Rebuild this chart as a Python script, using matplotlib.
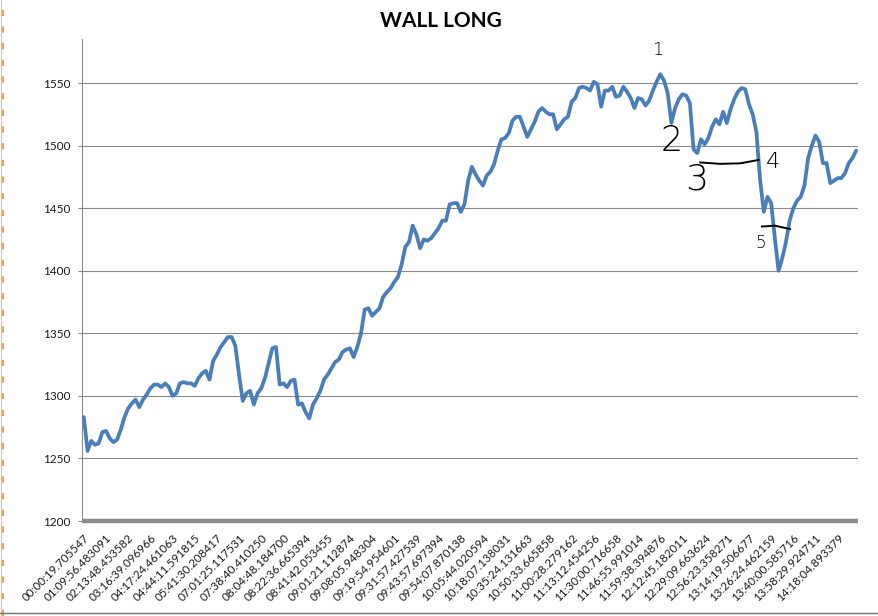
import matplotlib
matplotlib.use("Agg")
import matplotlib.pyplot as plt
from matplotlib.lines import Line2D
import numpy as np

# ---------------- data ----------------
title = "WALL LONG"

tick_labels = [
    "00:00:19.705547", "01:09:56.483091", "02:13:48.453582", "03:16:39.096966",
    "04:17:24.461063", "04:44:11.591815", "05:41:30.208417", "07:01:25.117531",
    "07:38:40.410250", "08:04:48.184700", "08:22:36.665394", "08:41:42.053455",
    "09:01:21.112874", "09:08:05.948304", "09:19:54.954601", "09:31:57.427539",
    "09:43:57.697394", "09:54:07.870138", "10:05:44.020594", "10:18:07.138031",
    "10:35:24.131663", "10:50:33.665858", "11:00:28.279162", "11:13:12.454256",
    "11:30:00.716658", "11:46:55.991014", "11:59:38.394876", "12:12:45.182011",
    "12:29:09.663624", "12:56:23.358271", "13:14:19.506677", "13:26:24.462159",
    "13:40:00.585716", "13:58:29.924711", "14:18:04.893379",
]

price = [
    1283, 1256, 1264, 1261, 1262, 1271, 1272, 1266, 1263, 1265,
    1273, 1283, 1290, 1294, 1297, 1291, 1297, 1301, 1306, 1309,
    1309, 1307, 1310, 1307, 1300, 1302, 1310, 1311, 1310, 1310,
    1308, 1314, 1318, 1320, 1313, 1328, 1333, 1339, 1343, 1347,
    1347, 1340, 1317, 1296, 1302, 1304, 1293, 1302, 1306, 1314,
    1326, 1338, 1339, 1309, 1310, 1307, 1312, 1313, 1293, 1294,
    1287, 1282, 1293, 1298, 1304, 1313, 1317, 1322, 1327, 1329,
    1335, 1337, 1338, 1331, 1339, 1350, 1369, 1370, 1364, 1367,
    1370, 1379, 1383, 1386, 1391, 1395, 1405, 1419, 1423, 1436,
    1429, 1418, 1425, 1424, 1426, 1430, 1434, 1440, 1440, 1453,
    1454, 1454, 1447, 1453, 1472, 1483, 1477, 1472, 1468, 1476,
    1479, 1485, 1496, 1505, 1506, 1510, 1520, 1523, 1523, 1515,
    1507, 1513, 1519, 1527, 1530, 1527, 1525, 1525, 1513, 1517,
    1521, 1523, 1535, 1538, 1546, 1547, 1546, 1544, 1551, 1549,
    1531, 1544, 1544, 1547, 1539, 1540, 1547, 1543, 1538, 1530,
    1538, 1537, 1532, 1536, 1544, 1551, 1557, 1552, 1542, 1518,
    1530, 1537, 1541, 1540, 1534, 1497, 1494, 1505, 1501, 1506,
    1515, 1521, 1517, 1527, 1518, 1529, 1537, 1543, 1546, 1545,
    1533, 1525, 1511, 1473, 1447, 1459, 1454, 1426, 1400, 1410,
    1423, 1440, 1450, 1456, 1459, 1468, 1490, 1500, 1508, 1503,
    1486, 1486, 1470, 1472, 1474, 1474, 1478, 1486, 1490, 1496,
]

y_ticks = [1200, 1250, 1300, 1350, 1400, 1450, 1500, 1550]
label_every = 6

# hand-drawn marks (sample index, price level)
marks = ["1", "2", "3", "4", "5"]
mark_pos = [(155.2, 1576), (159.2, 1504), (165.8, 1473), (186.4, 1487), (183.3, 1422)]
mark_size = [13, 25, 26, 16, 12]
stroke_34 = ([166.8, 172.2, 177.6, 182.6], [1486.5, 1485.4, 1485.8, 1488.5])
stroke_5 = ([183.5, 187.0, 191.1], [1435.3, 1436.0, 1433.3])

# ---------------- figure ----------------
W, H = 879, 616
fig = plt.figure(figsize=(W / 100, H / 100), dpi=100)
fig.patch.set_facecolor("white")

ymax = 1585
ax_left, ax_right, ax_bottom = 82, 858, 521
ax_top = ax_bottom - (ymax - 1200) * (438 / 350)
ax = fig.add_axes([ax_left / W, 1 - ax_bottom / H,
                   (ax_right - ax_left) / W, (ax_bottom - ax_top) / H])

x = np.arange(len(price))
ax.plot(x, price, color="#4A7EBB", lw=2.7, solid_joinstyle="round",
        solid_capstyle="round", zorder=3)

ax.set_xlim(-0.5, len(price) - 0.5)
ax.set_ylim(1200, ymax)

ax.set_yticks(y_ticks)
ax.set_yticklabels([str(v) for v in y_ticks], fontsize=8.5,
                   family=["Lato", "DejaVu Sans"], color="#1a1a1a")
ax.yaxis.grid(True, color="#8a8a8a", lw=0.8)
ax.set_axisbelow(True)
ax.tick_params(axis="y", length=3, width=0.8, color="#8a8a8a", pad=5)

tick_pos = x[::label_every][:len(tick_labels)]
ax.set_xticks(tick_pos)
ax.set_xticklabels(tick_labels, rotation=45, ha="right", va="top",
                   rotation_mode="anchor", fontsize=8.4,
                   family=["Lato", "DejaVu Sans"], color="#1a1a1a")
ax.tick_params(axis="x", length=0, pad=8)

for s in ("top", "right"):
    ax.spines[s].set_visible(False)
ax.spines["left"].set_color("#8a8a8a")
ax.spines["left"].set_linewidth(0.8)
ax.spines["bottom"].set_color("#8c8c8c")
ax.spines["bottom"].set_linewidth(3.2)
ax.spines["bottom"].set_capstyle("butt")

# title
fig.text(441 / W, 1 - 21 / H, title, ha="center", va="center",
         fontsize=15, fontweight="bold", family=["Lato", "DejaVu Sans"],
         color="black")

# hand-drawn annotations
for m, (mx, my), ms in zip(marks, mark_pos, mark_size):
    ax.text(mx, my, m, ha="center", va="center", fontsize=ms,
            family=["DejaVu Sans"], fontweight="light", color="black",
            clip_on=False, zorder=4)
ax.plot(*stroke_34, color="black", lw=1.4, zorder=4)
ax.plot(*stroke_5, color="black", lw=1.4, zorder=4)

# screenshot frame details
fig.add_artist(Line2D([3 / W, 3 / W], [0, 1], color="#f0a040", lw=1.5,
                      ls=(0, (3, 5)), transform=fig.transFigure))
fig.add_artist(Line2D([0.6 / W, 0.6 / W], [0, 1], color="#c8c8c8", lw=0.8,
                      transform=fig.transFigure))
fig.add_artist(Line2D([0, 1], [1 - 613 / H, 1 - 613 / H], color="#707070",
                      lw=1.0, transform=fig.transFigure))

fig.savefig("out.png", dpi=100, facecolor="white")
